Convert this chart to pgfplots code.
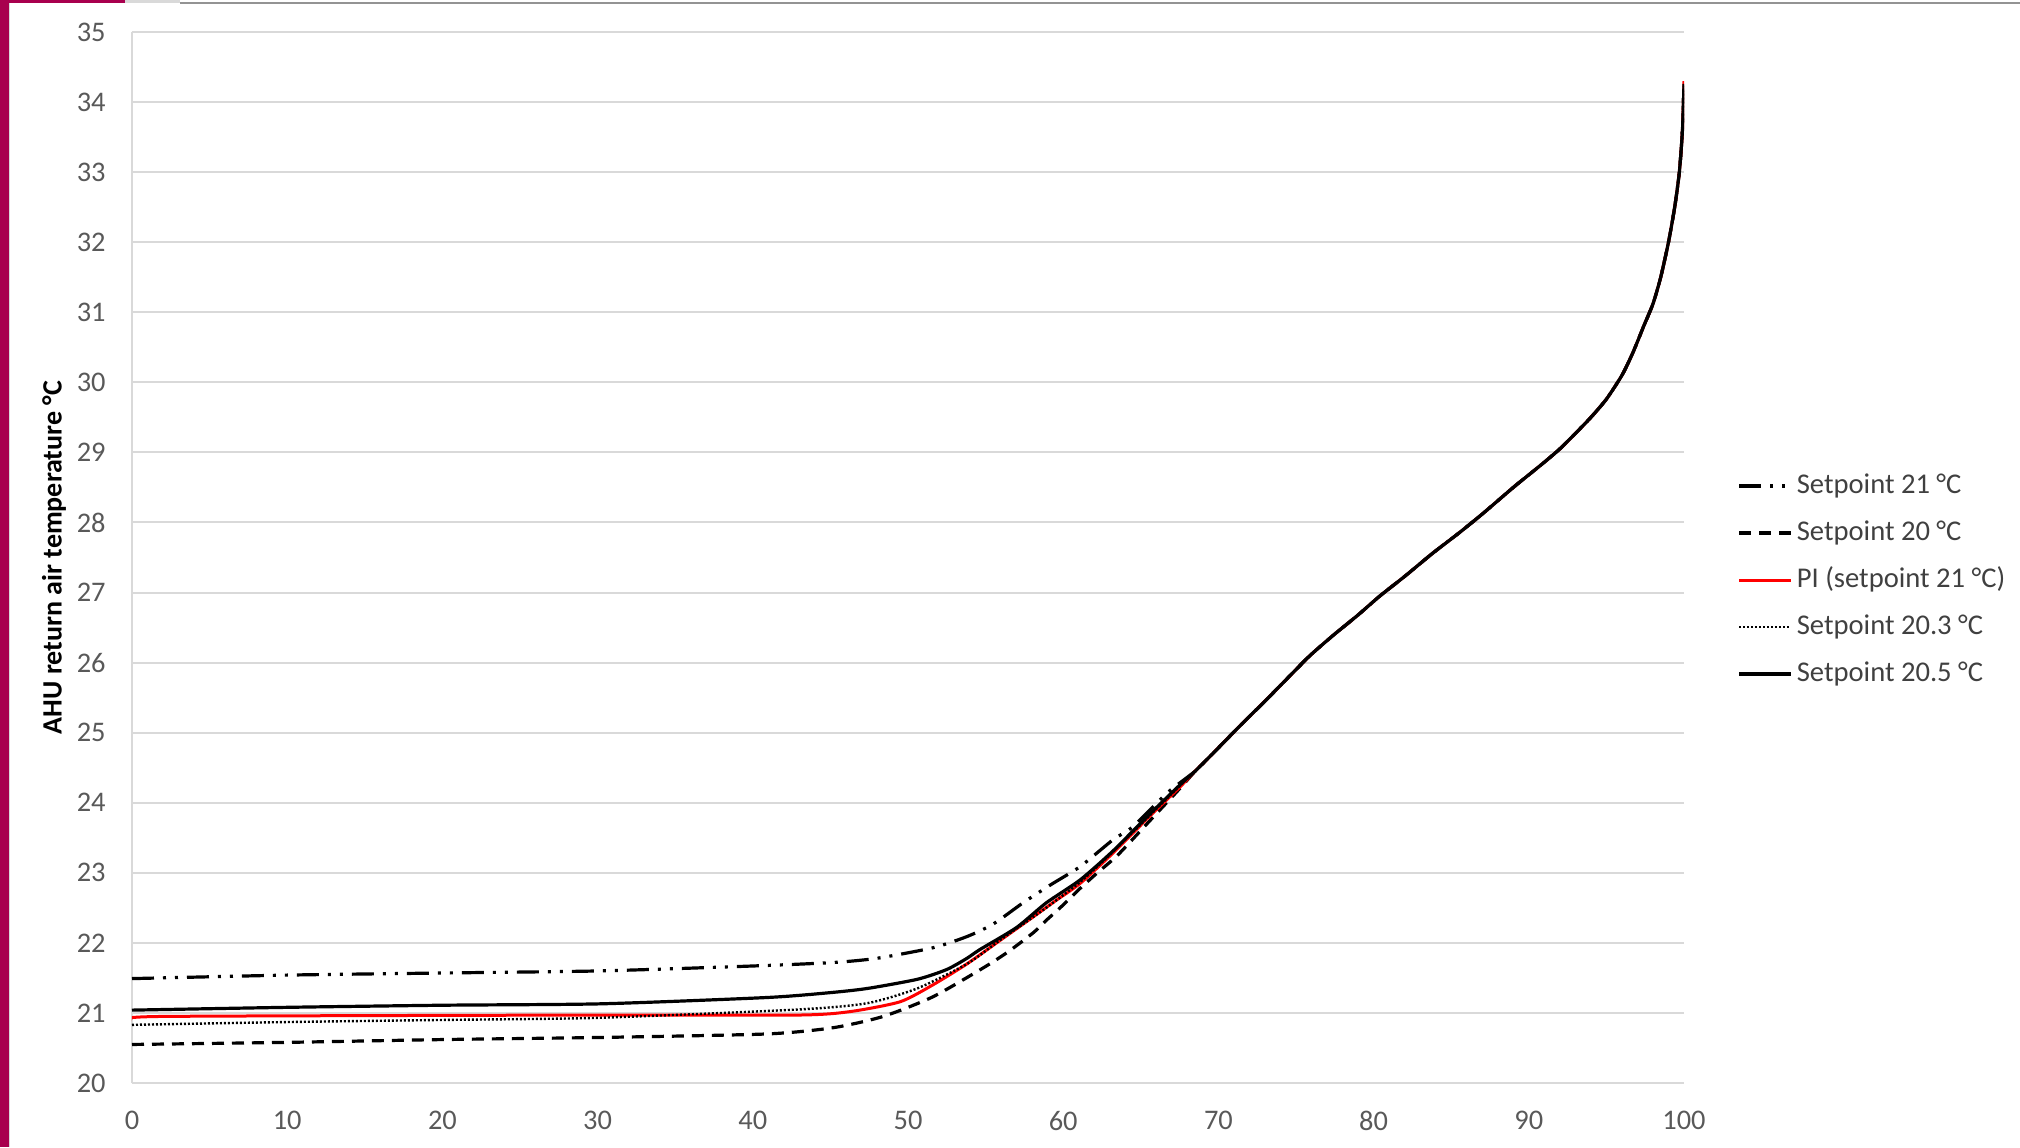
\documentclass[border=0pt]{standalone}
\usepackage{pgfplots}
\pgfplotsset{compat=1.18}
\usepackage{fontspec}
\setmainfont{Carlito}
\definecolor{gridgray}{RGB}{217,217,217}
\definecolor{ticktext}{RGB}{89,89,89}
\definecolor{legtext}{RGB}{64,64,64}
\definecolor{slidemag}{RGB}{168,0,78}
\definecolor{pired}{RGB}{255,0,0}
\begin{document}
\begin{tikzpicture}
\useasboundingbox (-66pt,-32pt) rectangle (944pt,541.5pt);
\fill[slidemag] (-66pt,-32pt) rectangle (-61.5pt,541.5pt);
\fill[slidemag] (-66pt,540pt) rectangle (-3.5pt,541.5pt);
\fill[gridgray] (-3.5pt,540pt) rectangle (24pt,541.5pt);
\fill[gray!85] (24pt,539.5pt) rectangle (944pt,540.5pt);
\fill[gridgray] (-61.5pt,-32pt) rectangle (-61pt,540pt);
\begin{axis}[
  scale only axis,
  width=776pt, height=525.5pt,
  xmin=0, xmax=100, ymin=20, ymax=35,
  xtick={0,10,...,100}, ytick={20,21,...,35},
  ymajorgrids, grid style={color=gridgray, line width=1pt},
  axis lines*=left,
  axis line style={color=gridgray, line width=1pt},
  major tick length=0pt,
  /pgf/number format/assume math mode=true,
  tick label style={font=\fontsize{14.2}{16}\selectfont, text=ticktext},
  yticklabel style={anchor=east, inner sep=0pt, xshift=-13pt},
  xticklabel style={anchor=north, inner sep=0pt, yshift=-14pt},
  ylabel={AHU return air temperature °C},
  ylabel style={at={(rel axis cs:0,0.5)}, anchor=center, yshift=39pt, font=\fontsize{14}{16}\selectfont\bfseries, text=black},
  legend style={at={(rel axis cs:1,0.4785)}, anchor=west, xshift=23.6pt, draw=none, fill=none,
    font=\fontsize{14.3}{16}\selectfont, text=legtext,
    nodes={inner sep=0pt, text height=10pt, text depth=3pt},
    row sep=10.5pt, column sep=2pt},
  legend cell align=left,
  legend image code/.code={\draw[#1] (0pt,0pt) -- (26pt,0pt);},
  every axis plot/.append style={smooth, tension=0.4},
]
% Setpoint 21 C
\addplot[black, line width=1.6pt, dash pattern=on 11pt off 4.5pt on 1.5pt off 4.5pt on 1.5pt off 4.5pt] table {
x y
0 21.49
10 21.54
20 21.57
30.2 21.60
40 21.67
45.2 21.72
48 21.78
51.6 21.93
53.8 22.09
55.5 22.27
57.4 22.57
59.2 22.83
61.1 23.09
63.2 23.47
64.5 23.66
66.7 24.14
68.5 24.45
69.5 24.67
71.4 25.1
73.0 25.45
74.6 25.81
75.9 26.1
77.4 26.39
79.0 26.68
80.4 26.95
82.0 27.23
83.8 27.56
85.5 27.85
87.0 28.12
89.0 28.5
90.0 28.68
91.0 28.86
92.0 29.05
93.0 29.27
94.0 29.5
95.0 29.76
96.0 30.1
96.7 30.42
97.4 30.8
98.0 31.12
98.5 31.5
99.0 32.0
99.4 32.5
99.7 33.0
99.9 33.6
100 34.26
};
\addlegendentry{Setpoint 21 °C}
% Setpoint 20 C
\addplot[black, line width=1.6pt, dash pattern=on 6pt off 4pt] table {
x y
0 20.55
10 20.58
20 20.62
30.2 20.65
40.9 20.70
45.2 20.79
48.4 20.95
51.6 21.23
54.9 21.65
56.5 21.88
58.1 22.15
58.9 22.32
59.8 22.5
61.1 22.78
62.2 23.0
63.5 23.25
65.4 23.7
67.5 24.2
68.5 24.45
69.5 24.67
71.4 25.1
73.0 25.45
74.6 25.81
75.9 26.1
77.4 26.39
79.0 26.68
80.4 26.95
82.0 27.23
83.8 27.56
85.5 27.85
87.0 28.12
89.0 28.5
90.0 28.68
91.0 28.86
92.0 29.05
93.0 29.27
94.0 29.5
95.0 29.76
96.0 30.1
96.7 30.42
97.4 30.8
98.0 31.12
98.5 31.5
99.0 32.0
99.4 32.5
99.7 33.0
99.9 33.6
100 34.26
};
\addlegendentry{Setpoint 20 °C}
% PI (setpoint 21 C)
\addplot[pired, line width=1.5pt] table {
x y
0 20.90
2 20.95
30 20.97
43 20.97
46.3 21.02
49.5 21.16
51.6 21.4
53.8 21.7
55.9 22.03
58.0 22.36
59.5 22.6
61.1 22.85
63.2 23.28
65.4 23.77
67.5 24.22
68.5 24.45
69.5 24.67
71.4 25.1
73.0 25.45
74.6 25.81
75.9 26.1
77.4 26.39
79.0 26.68
80.4 26.95
82.0 27.23
83.8 27.56
85.5 27.85
87.0 28.12
89.0 28.5
90.0 28.68
91.0 28.86
92.0 29.05
93.0 29.27
94.0 29.5
95.0 29.76
96.0 30.1
96.7 30.42
97.4 30.8
98.0 31.12
98.5 31.5
99.0 32.0
99.4 32.5
99.7 33.0
99.9 33.6
100 34.30
};
\addlegendentry{PI (setpoint 21 °C)}
% Setpoint 20.3 C
\addplot[black, line width=1.2pt, dash pattern=on 1pt off 1pt] table {
x y
0 20.83
10 20.87
20 20.90
30 20.93
43 21.05
47.4 21.14
50.6 21.35
53.8 21.7
56.0 22.05
58.9 22.5
61.1 22.87
63.2 23.3
65.4 23.78
67.5 24.24
68.5 24.45
69.5 24.67
71.4 25.1
73.0 25.45
74.6 25.81
75.9 26.1
77.4 26.39
79.0 26.68
80.4 26.95
82.0 27.23
83.8 27.56
85.5 27.85
87.0 28.12
89.0 28.5
90.0 28.68
91.0 28.86
92.0 29.05
93.0 29.27
94.0 29.5
95.0 29.76
96.0 30.1
96.7 30.42
97.4 30.8
98.0 31.12
98.5 31.5
99.0 32.0
99.4 32.5
99.7 33.0
99.9 33.6
100 34.26
};
\addlegendentry{Setpoint 20.3 °C}
% Setpoint 20.5 C
\addplot[black, line width=1.6pt] table {
x y
0 21.04
10 21.08
20 21.11
30.2 21.13
40.9 21.22
45 21.29
47.4 21.35
50.6 21.48
52.5 21.62
53.8 21.78
54.6 21.9
57.0 22.22
58.9 22.57
61.1 22.9
63.2 23.31
65.4 23.8
67.5 24.25
68.5 24.45
69.5 24.67
71.4 25.1
73.0 25.45
74.6 25.81
75.9 26.1
77.4 26.39
79.0 26.68
80.4 26.95
82.0 27.23
83.8 27.56
85.5 27.85
87.0 28.12
89.0 28.5
90.0 28.68
91.0 28.86
92.0 29.05
93.0 29.27
94.0 29.5
95.0 29.76
96.0 30.1
96.7 30.42
97.4 30.8
98.0 31.12
98.5 31.5
99.0 32.0
99.4 32.5
99.7 33.0
99.9 33.6
100 34.26
};
\addlegendentry{Setpoint 20.5 °C}
\end{axis}
\end{tikzpicture}
\end{document}
